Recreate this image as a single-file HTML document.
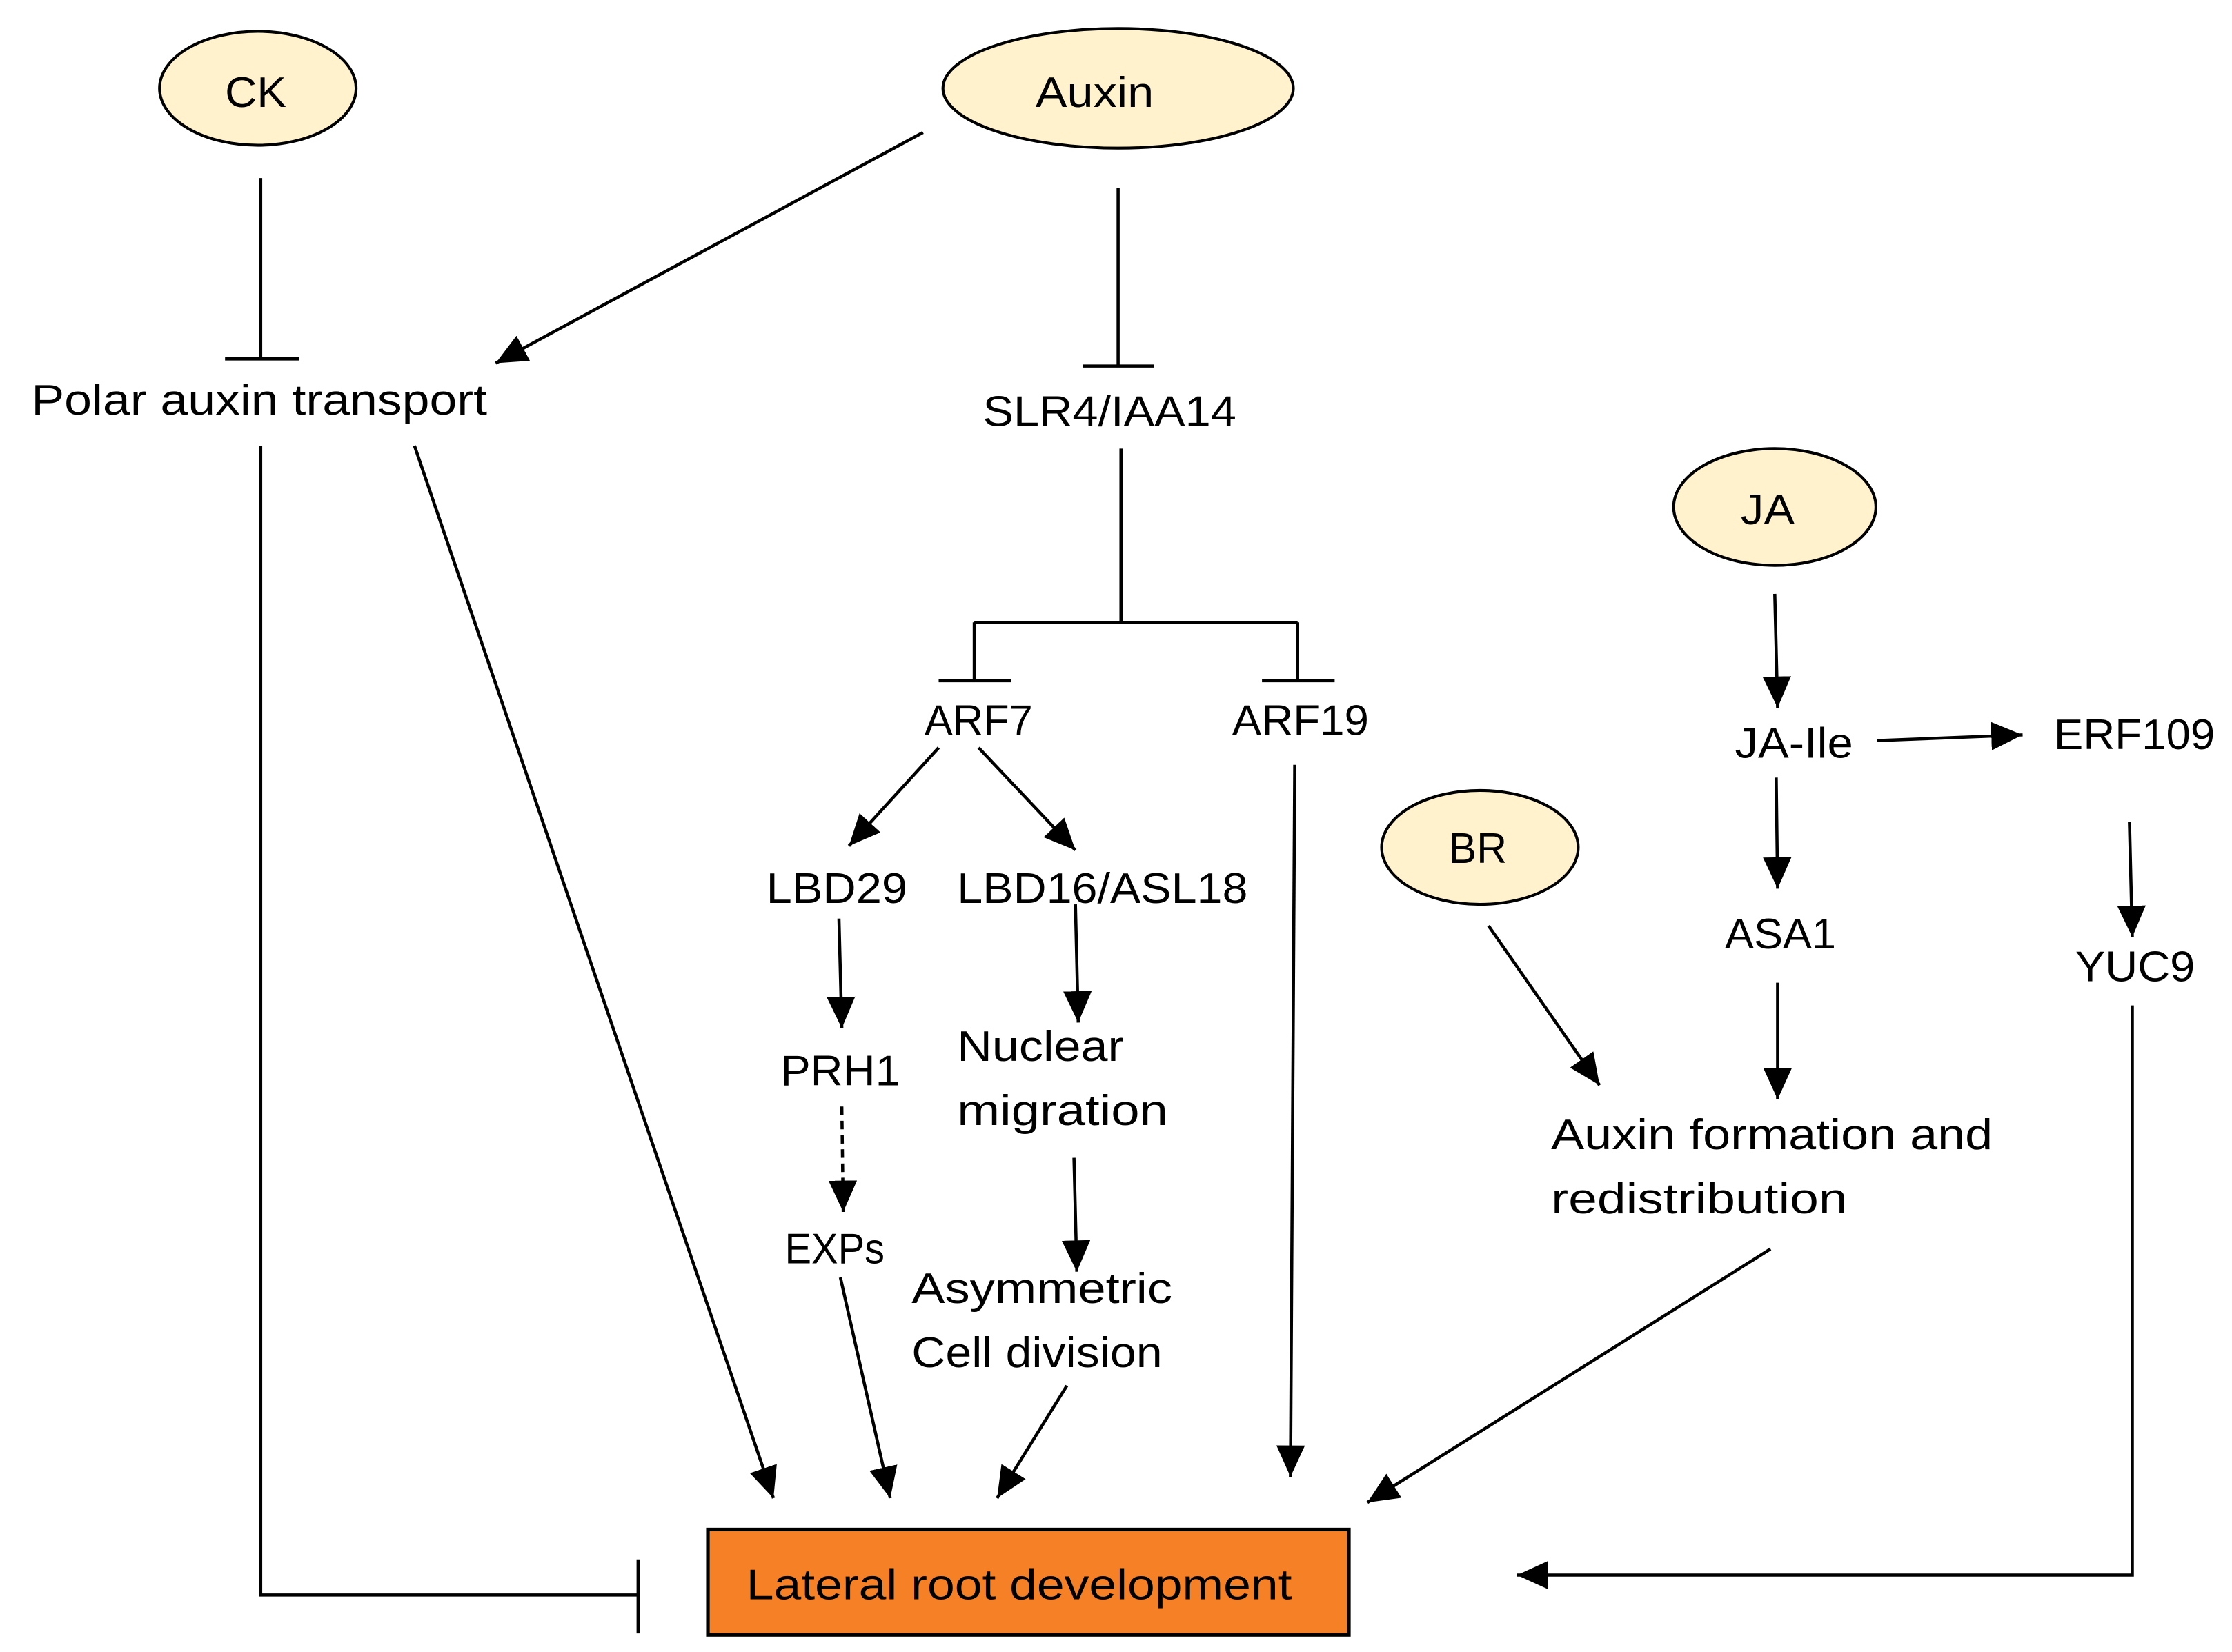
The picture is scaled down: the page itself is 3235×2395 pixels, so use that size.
<!DOCTYPE html>
<html><head><meta charset="utf-8"><style>html,body{margin:0;padding:0;background:#fff}svg{display:block}</style></head>
<body>
<svg width="3235" height="2395" viewBox="0 0 1567 1160" preserveAspectRatio="none" xmlns="http://www.w3.org/2000/svg">
<defs>
<marker id="a" markerWidth="24" markerHeight="20" refX="22" refY="10" orient="auto" markerUnits="userSpaceOnUse">
<path d="M0,0 L22,10 L0,20 Z" fill="#000"/></marker>
</defs>
<g fill="#FFF2CC" stroke="#000" stroke-width="2">
<ellipse cx="181" cy="62" rx="69" ry="40"/>
<ellipse cx="785" cy="62" rx="123" ry="42"/>
<ellipse cx="1246" cy="356" rx="71" ry="41"/>
<ellipse cx="1039" cy="595" rx="69" ry="40"/>
</g>
<rect x="497" y="1074" width="450" height="74" fill="#F58025" stroke="#000" stroke-width="2.5"/>
<g stroke="#000" stroke-width="2.2" fill="none">
<path d="M183,125 V252 M158,252 H210"/>
<path d="M648,93 L348,255" marker-end="url(#a)"/>
<path d="M785,132 V257 M760,257 H810"/>
<path d="M787,315 V437 M684,437 H911 M684,437 V478 M659,478 H710 M911,437 V478 M886,478 H937"/>
<path d="M659,525 L596,594" marker-end="url(#a)"/>
<path d="M687,525 L755,597" marker-end="url(#a)"/>
<path d="M589,645 L591,722" marker-end="url(#a)"/>
<path d="M755,635 L757,718" marker-end="url(#a)"/>
<path d="M591,777 L592,851" stroke-dasharray="6,4" marker-end="url(#a)"/>
<path d="M754,813 L756,893" marker-end="url(#a)"/>
<path d="M909,537 L906,1037" marker-end="url(#a)"/>
<path d="M291,313 L543,1052" marker-end="url(#a)"/>
<path d="M590,897 L625,1052" marker-end="url(#a)"/>
<path d="M749,973 L700,1052" marker-end="url(#a)"/>
<path d="M1243,877 L960,1055" marker-end="url(#a)"/>
<path d="M1045,650 L1123,762" marker-end="url(#a)"/>
<path d="M1246,417 L1248,497" marker-end="url(#a)"/>
<path d="M1318,520 L1420,516" marker-end="url(#a)"/>
<path d="M1247,546 L1248,624" marker-end="url(#a)"/>
<path d="M1495,577 L1497,658" marker-end="url(#a)"/>
<path d="M1248,690 L1248,772" marker-end="url(#a)"/>
<path d="M1497,706 V1106 H1065" marker-end="url(#a)"/>
<path d="M183,313 V1120 H448 M448,1095 V1147"/>
</g>
<g font-family="'Liberation Sans',sans-serif" font-size="30" fill="#000">
<text x="158" y="75" textLength="43" lengthAdjust="spacingAndGlyphs">CK</text>
<text x="727" y="75" textLength="83" lengthAdjust="spacingAndGlyphs">Auxin</text>
<text x="1222" y="368" textLength="38" lengthAdjust="spacingAndGlyphs">JA</text>
<text x="1017" y="606" textLength="41" lengthAdjust="spacingAndGlyphs">BR</text>
<text x="22" y="291" textLength="320" lengthAdjust="spacingAndGlyphs">Polar auxin transport</text>
<text x="690" y="299" textLength="178" lengthAdjust="spacingAndGlyphs">SLR4/IAA14</text>
<text x="649" y="516" textLength="76" lengthAdjust="spacingAndGlyphs">ARF7</text>
<text x="865" y="516" textLength="96" lengthAdjust="spacingAndGlyphs">ARF19</text>
<text x="1218" y="532" textLength="83" lengthAdjust="spacingAndGlyphs">JA-Ile</text>
<text x="1442" y="526" textLength="113" lengthAdjust="spacingAndGlyphs">ERF109</text>
<text x="538" y="634" textLength="99" lengthAdjust="spacingAndGlyphs">LBD29</text>
<text x="672" y="634" textLength="204" lengthAdjust="spacingAndGlyphs">LBD16/ASL18</text>
<text x="1211" y="666" textLength="78" lengthAdjust="spacingAndGlyphs">ASA1</text>
<text x="1457" y="689" textLength="84" lengthAdjust="spacingAndGlyphs">YUC9</text>
<text x="548" y="762" textLength="84" lengthAdjust="spacingAndGlyphs">PRH1</text>
<text x="672" y="745" textLength="117" lengthAdjust="spacingAndGlyphs">Nuclear</text>
<text x="672" y="790" textLength="148" lengthAdjust="spacingAndGlyphs">migration</text>
<text x="1089" y="807" textLength="310" lengthAdjust="spacingAndGlyphs">Auxin formation and</text>
<text x="1089" y="852" textLength="208" lengthAdjust="spacingAndGlyphs">redistribution</text>
<text x="551" y="887" textLength="70" lengthAdjust="spacingAndGlyphs">EXPs</text>
<text x="640" y="915" textLength="183" lengthAdjust="spacingAndGlyphs">Asymmetric</text>
<text x="640" y="960" textLength="176" lengthAdjust="spacingAndGlyphs">Cell division</text>
<text x="524" y="1123" textLength="383" lengthAdjust="spacingAndGlyphs">Lateral root development</text>
</g>
</svg>
</body></html>
